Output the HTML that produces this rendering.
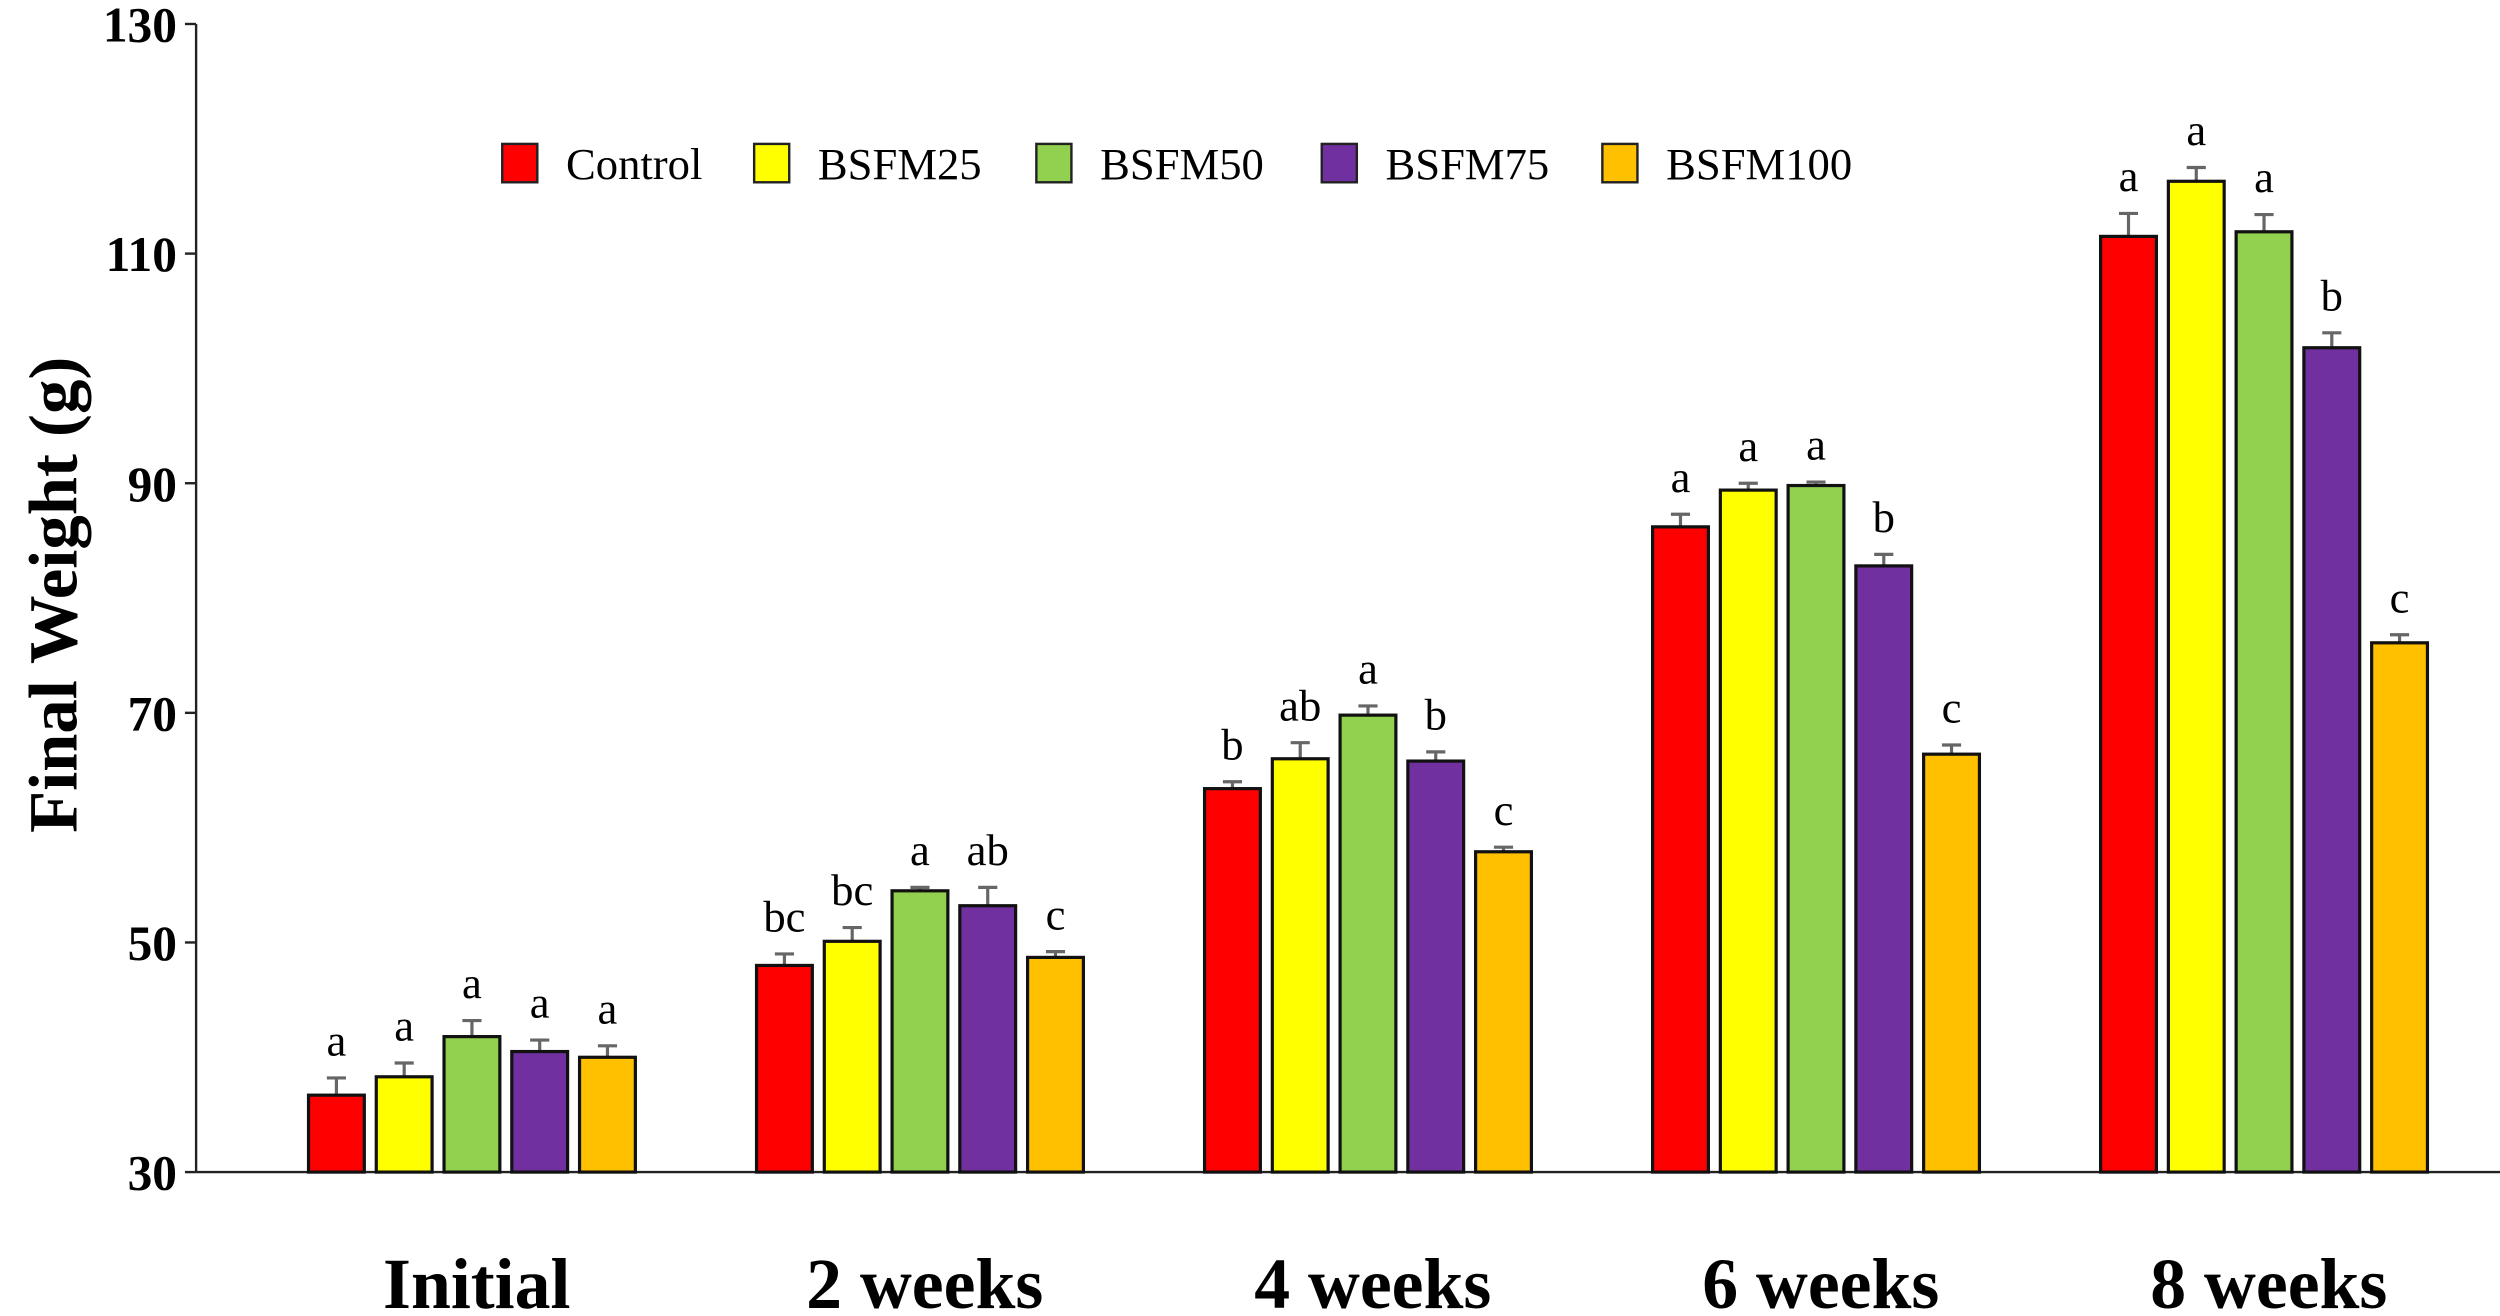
<!DOCTYPE html>
<html><head><meta charset="utf-8"><style>
html,body{margin:0;padding:0;background:#fff;}
svg{display:block;}
text{font-family:"Liberation Serif",serif;}
</style></head><body>
<svg id="chart" width="2500" height="1316" viewBox="0 0 1568 823" preserveAspectRatio="none" xmlns="http://www.w3.org/2000/svg"></svg>
<script>
const categories = ["Initial","2 weeks","4 weeks","6 weeks","8 weeks"];
const seriesNames = ["Control","BSFM25","BSFM50","BSFM75","BSFM100"];
const controlVals = [36.7,48.0,63.4,86.2,111.5];
const bsfm25Vals = [38.3,50.1,66.0,89.4,116.3];
const bsfm50Vals = [41.8,54.5,69.8,89.8,111.9];
const bsfm75Vals = [40.5,53.2,65.8,82.8,101.8];
const bsfm100Vals = [40.0,48.7,57.9,66.4,76.1];
const controlErr = [1.5,1.0,0.6,1.1,2.0];
const bsfm25Err = [1.2,1.2,1.4,0.6,1.2];
const bsfm50Err = [1.4,0.3,0.8,0.3,1.5];
const bsfm75Err = [1.0,1.6,0.8,1.0,1.3];
const bsfm100Err = [1.0,0.5,0.4,0.8,0.7];
const controlLetters = ["a","bc","b","a","a"];
const bsfm25Letters = ["a","bc","ab","a","a"];
const bsfm50Letters = ["a","a","a","a","a"];
const bsfm75Letters = ["a","ab","b","b","b"];
const bsfm100Letters = ["a","c","c","c","c"];
const yTicks = [30,50,70,90,110,130];

const values=[controlVals,bsfm25Vals,bsfm50Vals,bsfm75Vals,bsfm100Vals];
const errs=[controlErr,bsfm25Err,bsfm50Err,bsfm75Err,bsfm100Err];
const letters=[controlLetters,bsfm25Letters,bsfm50Letters,bsfm75Letters,bsfm100Letters];
const colors=["#ff0000","#ffff00","#92d050","#7030a0","#ffc000"];
const NS="http://www.w3.org/2000/svg";
const svg=document.getElementById('chart');
function el(t,a,p){const e=document.createElementNS(NS,t);for(const k in a)e.setAttribute(k,a[k]);(p||svg).appendChild(e);return e;}
const y0=733,y1=15,vmin=30,vmax=130,axX=123;
const y=v=>y0-(v-vmin)/(vmax-vmin)*(y0-y1);
const groupW=281,firstC=296,barW=35,pitch=42.5;
const gx=i=>firstC+i*groupW;
const bx=(i,s)=>gx(i)+(s-2)*pitch-barW/2;

let a=el('line',{x1:axX,y1:y1,x2:axX,y2:y0,stroke:'#222','stroke-width':1.5});


a=el('line',{x1:axX,y1:y0,x2:1568,y2:y0,stroke:'#222','stroke-width':1.5});


yTicks.forEach(t=>{
  const l=el('line',{x1:axX-7,y1:y(t),x2:axX,y2:y(t),stroke:'#222','stroke-width':1.5});
  
  
  const tx=el('text',{x:axX-12,y:y(t)+11,'text-anchor':'end','font-size':31,'font-weight':'bold'});
  tx.textContent=t;
  
  
});
const yt=el('text',{x:0,y:0,transform:'translate(48,372) rotate(-90)','text-anchor':'middle','font-size':43,'font-weight':'bold'});
yt.textContent='Final Weight (g)';



categories.forEach((c,i)=>{
  const t=el('text',{x:gx(i)+3,y:818,'text-anchor':'middle','font-size':45,'font-weight':'bold'});
  t.textContent=c;
  
  
  for(let s=0;s<5;s++){
    const v=values[s][i],e=errs[s][i],x=bx(i,s),cx=x+barW/2;
    const el1=el('line',{x1:cx,y1:y(v),x2:cx,y2:y(v+e),stroke:'#666','stroke-width':2});
    
    
    const el2=el('line',{x1:cx-6,y1:y(v+e),x2:cx+6,y2:y(v+e),stroke:'#666','stroke-width':2});
    
    
    const r=el('rect',{x:x,y:y(v),width:barW,height:y0-y(v),fill:colors[s],stroke:'#111','stroke-width':2});
    
    
    const lt=el('text',{x:cx,y:y(v+e)-14,'text-anchor':'middle','font-size':28});
    lt.textContent=letters[s][i];
    
    
  }
});
const legX=[315,473,650,829,1005];
seriesNames.forEach((n,s)=>{
  const r=el('rect',{x:legX[s],y:90,width:22,height:24,fill:colors[s],stroke:'#222','stroke-width':1.5});
  
  
  const t=el('text',{x:legX[s]+40,y:112,'font-size':28});
  t.textContent=n;
  
  
});
</script>
</body></html>
